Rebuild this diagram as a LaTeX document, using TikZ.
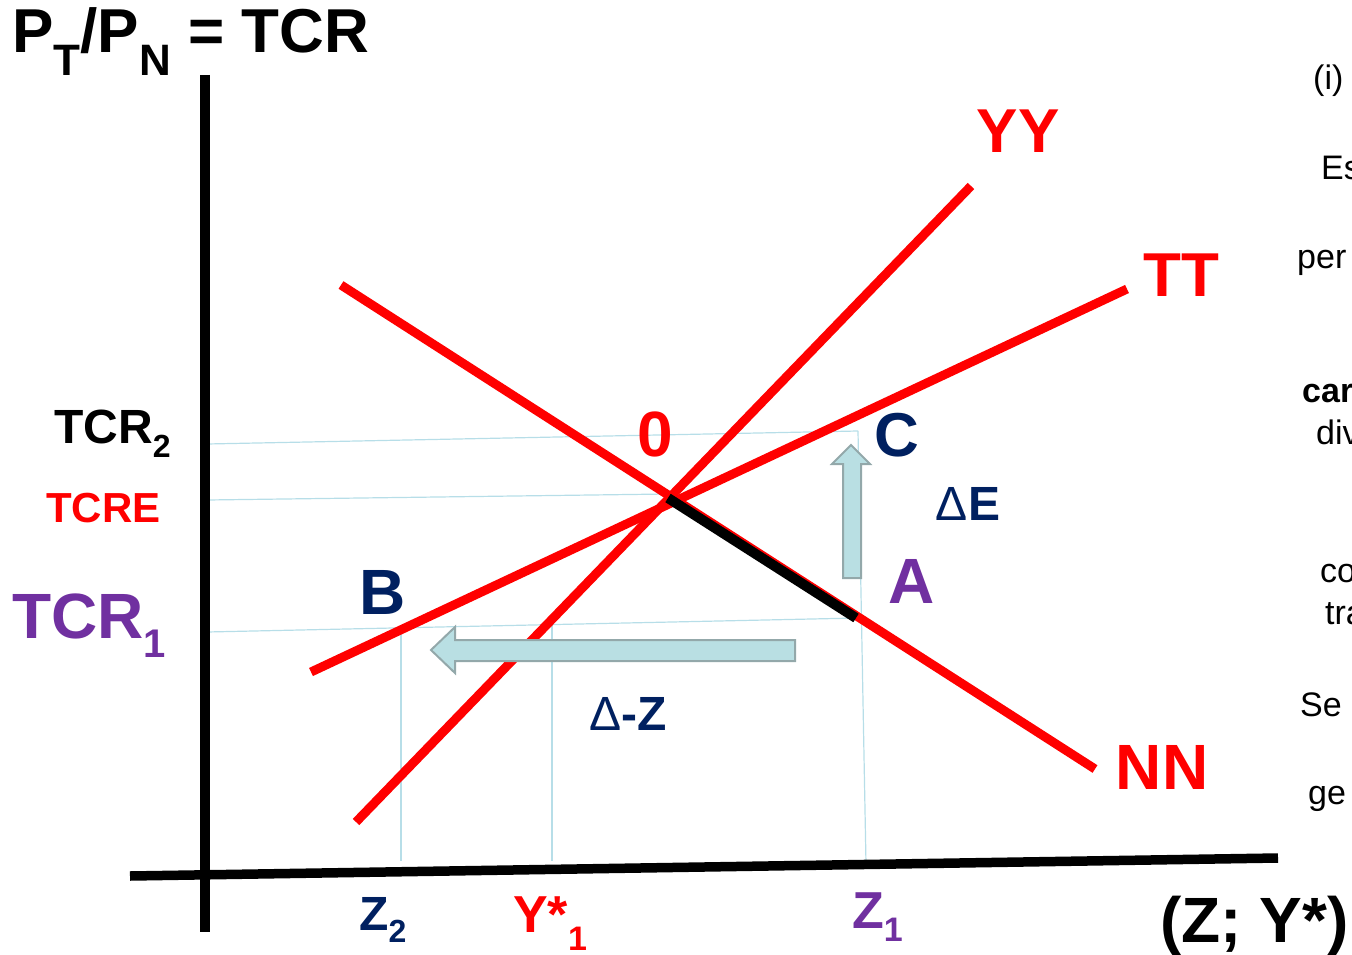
\documentclass[tikz,border=0pt]{standalone}
\usepackage{fontspec}
\setmainfont{Liberation Sans}
\usepackage{graphicx}
\definecolor{navy}{HTML}{002060}
\definecolor{purp}{HTML}{7030A0}
\definecolor{guide}{HTML}{B7DEE8}
\definecolor{afill}{HTML}{B9DFE3}
\definecolor{aedge}{HTML}{93A8AA}
\newcommand\fs[1]{\fontsize{#1}{#1}\selectfont}
\newcommand\lowsub[3]{\raisebox{#3}{\fs{#1}#2}}
\begin{document}
\begin{tikzpicture}[x=1pt,y=-1pt,
  curve/.style={draw=red,line width=9pt},
  axis/.style={draw=black,line width=9.5pt},
  guideline/.style={draw=guide,line width=1.2pt},
  blockarrow/.style={fill=afill,draw=aedge,line width=2pt,line join=miter},
  lbl/.style={inner sep=0pt,font=\bfseries},
  side/.style={inner sep=0pt,anchor=west,font=\fs{34}}]
\useasboundingbox (0,0) rectangle (1352,955);
% coordinates
\coordinate (vaT) at (205,75);
\coordinate (vaB) at (205,932);
\coordinate (haL) at (130,876);
\coordinate (haR) at (1278,858);
\coordinate (yyA) at (356,822);
\coordinate (yyB) at (971,186);
\coordinate (ttA) at (311,672);
\coordinate (ttB) at (1127,289);
\coordinate (nnA) at (341,285);
\coordinate (nnB) at (1095,769);
\coordinate (E0) at (668,498);
\coordinate (Apt) at (856,618);
\coordinate (g2L) at (207,444);
\coordinate (g2R) at (858,431);
\coordinate (geL) at (207,500);
\coordinate (geR) at (668,494);
\coordinate (g1L) at (207,632);
\coordinate (g1R) at (858,618);
\coordinate (z2T) at (401,631);
\coordinate (z2B) at (401,861);
\coordinate (ysT) at (552,624);
\coordinate (ysB) at (552,861);
\coordinate (z1T) at (858,431);
\coordinate (z1B) at (866,864);
% guide lines
\draw[guideline] (g2L) -- (g2R) -- (z1T);
\draw[guideline] (geL) -- (geR);
\draw[guideline] (g1L) -- (g1R);
\draw[guideline] (z2T) -- (z2B);
\draw[guideline] (ysT) -- (ysB);
\draw[guideline] (z1T) -- (z1B);
\draw[draw=gray!60,line width=1pt] (203,407) -- (205,428);
% axes
\draw[axis] (vaT) -- (vaB);
\draw[axis] (haL) -- (haR);
% curves
\draw[curve] (yyA) -- (yyB);
\draw[curve] (ttA) -- (ttB);
\draw[curve] (nnA) -- (nnB);
\draw[draw=black,line width=10pt] (E0) -- (Apt);
% block arrows
\draw[blockarrow] (843,578) -- (861,578) -- (861,464) -- (870,464) -- (851,445) -- (832,464) -- (843,464) -- cycle;
\draw[blockarrow] (795,640) -- (795,661) -- (455,661) -- (455,673) -- (431,650) -- (455,627) -- (455,640) -- cycle;
% labels
\node[lbl,font=\bfseries\fs{62},anchor=base west] (title) at (12,53) {P\lowsub{44}{T}{-0.36em}/P\lowsub{44}{N}{-0.36em} = TCR};
\node[lbl,text=red,font=\bfseries\fs{62}] (YY) at (1018,131) {YY};
\node[lbl,text=red,font=\bfseries\fs{62}] (TT) at (1181,275) {TT};
\node[lbl,text=red,font=\bfseries\fs{64}] (NN) at (1162,767) {NN};
\node[lbl,text=red,font=\bfseries\fs{64}] (zero) at (655,434) {0};
\node[lbl,text=navy,font=\bfseries\fs{62}] (C) at (897,435) {C};
\node[lbl,text=purp,font=\bfseries\fs{64}] (A) at (912,581) {A};
\node[lbl,text=navy,font=\bfseries\fs{64}] (B) at (383,592) {B};
\node[lbl,text=navy,font=\fs{48},anchor=base] (dE) at (968,520) {Δ\textbf{E}};
\node[lbl,text=navy,font=\fs{48},anchor=base] (dZ) at (628,730) {Δ\textbf{-Z}};
\node[lbl,text=black,font=\bfseries\fs{48},anchor=base west] (tcr2) at (54,443) {TCR\lowsub{32}{2}{-0.3em}};
\node[lbl,text=red,font=\bfseries\fs{42},anchor=base west] (tcre) at (46,522) {TCRE};
\node[lbl,text=purp,font=\bfseries\fs{64},anchor=base west] (tcr1) at (12,638) {TCR\lowsub{40}{1}{-0.3em}};
\node[lbl,text=navy,font=\bfseries\fs{48},anchor=base west] (z2) at (359,930) {Z\lowsub{32}{2}{-0.25em}};
\node[lbl,text=red,font=\bfseries\fs{52},anchor=base west] (ys) at (513,932) {Y*\lowsub{34}{1}{-0.35em}};
\node[lbl,text=purp,font=\bfseries\fs{52},anchor=base west] (z1) at (852,928) {Z\lowsub{34}{1}{-0.25em}};
\node[lbl,text=black,font=\bfseries\fs{64},anchor=base west] (zy) at (1160,942) {(Z; Y*)};
% right margin text (clipped by page edge, as in the reference)
\begin{scope}
\clip (1280,0) rectangle (1352,955);
\node[side,anchor=base west] (t1) at (1313,90) {(i)};
\node[side,anchor=base west] (t2) at (1321,179) {Es};
\node[side,anchor=base west] (t3) at (1297,268) {per};
\node[side,anchor=base west,font=\bfseries\fs{34}] (t4) at (1302,402) {car};
\node[side,anchor=base west] (t5) at (1316,444) {div};
\node[side,anchor=base west] (t6) at (1320,582) {co};
\node[side,anchor=base west] (t7) at (1325,624) {tra};
\node[side,anchor=base west] (t8) at (1300,716) {Se};
\node[side,anchor=base west] (t9) at (1308,804) {ge};
\end{scope}
\end{tikzpicture}
\end{document}
